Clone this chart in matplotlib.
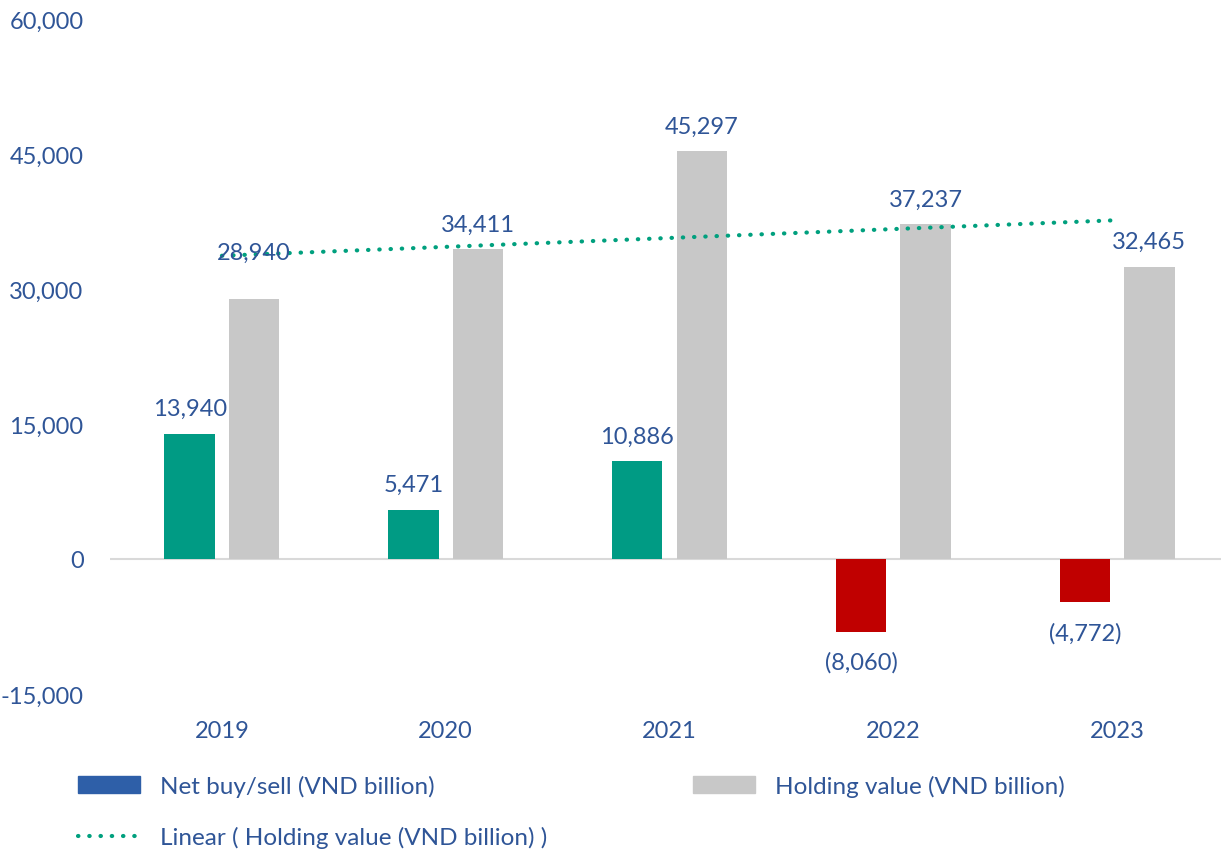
import numpy as np
import matplotlib
matplotlib.use('Agg')
import matplotlib.pyplot as plt
from matplotlib.patches import Patch
from matplotlib.lines import Line2D

plt.rcParams['font.family'] = ['Lato', 'DejaVu Sans']

years = ['2019', '2020', '2021', '2022', '2023']
net_buy_sell = [13940, 5471, 10886, -8060, -4772]
holding_value = [28940, 34411, 45297, 37237, 32465]
y_ticks = [-15000, 0, 15000, 30000, 45000, 60000]

text_blue = '#2F5597'
green = '#009B84'
red = '#C00000'
grey = '#C8C8C8'
trend_color = '#00A07E'
fs = 17

fig = plt.figure(figsize=(12.21, 8.53), dpi=100)
ax = fig.add_axes([110 / 1221, 1 - 695 / 853, 1119 / 1221, 675 / 853])

x = np.arange(len(years))
w = 0.225
off = 0.144

net_colors = [green if v >= 0 else red for v in net_buy_sell]
ax.bar(x - off, net_buy_sell, w, color=net_colors, zorder=2)
ax.bar(x + off, holding_value, w, color=grey, zorder=2)

# linear trend of holding value
coef = np.polyfit(x, holding_value, 1)
ax.plot(x, np.polyval(coef, x), color=trend_color, lw=3,
        linestyle=(0, (0.1, 2.6)), dash_capstyle='round', zorder=3)

ax.axhline(0, color='#D9D9D9', lw=1.5, zorder=1)


def fmt(v):
    return f'({abs(v):,})' if v < 0 else f'{v:,}'


for xi, v in zip(x, net_buy_sell):
    dy = 18 if v >= 0 else -22
    ax.annotate(fmt(v), (xi - off, v), xytext=(0, dy), textcoords='offset points',
                ha='center', va='center', color=text_blue, fontsize=fs, zorder=4)
for xi, v in zip(x, holding_value):
    dy = 33 if xi == 0 else 18  # first label sits higher in the original
    ax.annotate(fmt(v), (xi + off, v), xytext=(0, dy), textcoords='offset points',
                ha='center', va='center', color=text_blue, fontsize=fs, zorder=4)

ax.set_xlim(-0.5, 4.5)
ax.set_ylim(-15000, 60000)
ax.set_xticks(x)
ax.set_xticklabels(years)
ax.set_yticks(y_ticks)
ax.set_yticklabels([f'{t:,}' for t in y_ticks])
ax.tick_params(length=0, colors=text_blue, labelsize=fs)
ax.tick_params(axis='y', pad=19)
ax.tick_params(axis='x', pad=19)
for s in ax.spines.values():
    s.set_visible(False)

handles = [Patch(color='#2E5FA8'),
           Line2D([0], [0], color=trend_color, lw=3, linestyle=(0, (0.1, 2.6)),
                  dash_capstyle='round'),
           Patch(color=grey)]
labels = ['Net buy/sell (VND billion)',
          'Linear ( Holding value (VND billion) )',
          'Holding value (VND billion)']
fig.legend(handles, labels, loc='upper left', bbox_to_anchor=(78 / 1221, 1 - 776 / 853),
           ncol=2, frameon=False, fontsize=17.5, labelcolor=text_blue,
           handlelength=2.55, handleheight=0.7, handletextpad=0.82,
           columnspacing=6.0, labelspacing=1.2, borderpad=0, borderaxespad=0)

fig.savefig('out.png', dpi=100)
